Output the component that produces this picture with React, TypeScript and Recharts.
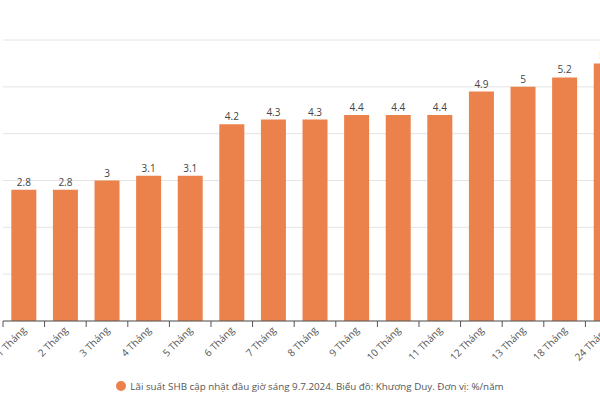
import React from 'react';
import { BarChart, Bar, XAxis, YAxis, CartesianGrid, Legend, LabelList } from 'recharts';

const categories = ['1 Tháng', '2 Tháng', '3 Tháng', '4 Tháng', '5 Tháng', '6 Tháng', '7 Tháng', '8 Tháng', '9 Tháng', '10 Tháng', '11 Tháng', '12 Tháng', '13 Tháng', '18 Tháng', '24 Tháng'];
const rates = [2.8, 2.8, 3, 3.1, 3.1, 4.2, 4.3, 4.3, 4.4, 4.4, 4.4, 4.9, 5, 5.2, 5.5];
const yTicks = [0, 1, 2, 3, 4, 5, 6];
const seriesName = 'Lãi suất SHB cập nhật đầu giờ sáng 9.7.2024. Biểu đồ: Khương Duy. Đơn vị: %/năm';

const data = categories.map((c, i) => ({ name: c, value: rates[i] }));

const FONT = '"Open Sans", "Noto Sans", sans-serif';

const BoundaryTick = (props: any) => {
  const { x, y, payload } = props;
  const off = payload && payload.offset ? payload.offset : 0;
  return (
    <g>
      <line x1={x - off} x2={x - off} y1={y - 8} y2={y - 2} stroke="#555" strokeWidth={1} />
      <text
        x={x + 3}
        y={y + 2}
        textAnchor="end"
        fontSize={10}
        fill="#555"
        fontFamily={FONT}
        transform={`rotate(-45, ${x + 3}, ${y + 2})`}
      >
        {payload.value}
      </text>
    </g>
  );
};

export default function App() {
  return (
    <div style={{ position: 'fixed', left: 0, top: 0, width: 600, height: 400, overflow: 'hidden', background: '#fff' }}>
      <div style={{ position: 'absolute', left: -40, top: 0 }}>
        <BarChart
          width={700}
          height={400}
          data={data}
          margin={{ top: 40, right: 33, left: 43, bottom: 5 }}
          barCategoryGap="20%"
          style={{ fontFamily: FONT }}
        >
          <CartesianGrid vertical={false} stroke="#e4e4e4" />
          <YAxis hide domain={[0, 6]} ticks={yTicks} />
          <XAxis
            dataKey="name"
            interval={0}
            height={52}
            tickLine={false}
            tickSize={6}
            tickMargin={2}
            axisLine={{ stroke: '#555' }}
            tick={<BoundaryTick />}
          />
          <Legend
            verticalAlign="bottom"
            iconType="circle"
            iconSize={10}
            formatter={(v: string) => <span style={{ color: '#555', fontSize: 9.8, fontFamily: FONT }}>{v}</span>}
          />
          <Bar dataKey="value" name={seriesName} fill="#EB824B" isAnimationActive={false}>
            <LabelList dataKey="value" position="top" offset={4} fontSize={10} fill="#444" fontFamily={FONT} />
          </Bar>
        </BarChart>
      </div>
    </div>
  );
}
